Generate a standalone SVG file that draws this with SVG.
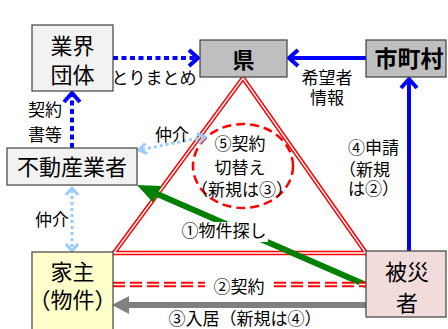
<svg xmlns="http://www.w3.org/2000/svg" width="448" height="329" viewBox="0 0 448 329">
<style>
text{font-family:"Noto Sans CJK JP","Noto Sans",sans-serif;fill:#000;text-anchor:middle}
.n{font-size:22px}
.b{font-size:22px;font-weight:bold}
.l{font-size:17px}
.box{stroke:#404040;stroke-width:1.2}
.blue{stroke:#0000ff;stroke-width:4;fill:none}
.dot{stroke-dasharray:5 3.5}
.lb{stroke:#99ccff;stroke-width:3;fill:none}
.ldot{stroke-dasharray:3 3}
</style>
<rect width="448" height="329" fill="#fff"/>
<g id="connectors">
  <polygon points="243,78 114,253 366,253" fill="none" stroke="#ff0000" stroke-width="4.5"/>
  <polygon points="243,78 114,253 366,253" fill="none" stroke="#fff" stroke-width="1.4"/>
  <ellipse cx="243" cy="166" rx="50" ry="42" fill="none" stroke="#ff0000" stroke-width="2.5" stroke-dasharray="9 5"/>
  <line x1="113" y1="58" x2="197" y2="58" class="blue dot"/>
  <polyline points="189,50 198,58 189,66" class="blue"/>
  <line x1="366" y1="58" x2="290" y2="58" class="blue"/>
  <polyline points="298,50 289,58 298,66" class="blue"/>
  <line x1="72" y1="148" x2="72" y2="95" class="blue dot"/>
  <polyline points="64,102 72,93 80,102" class="blue"/>
  <line x1="409" y1="251" x2="409" y2="80" class="blue"/>
  <polyline points="401,88 409,79 417,88" class="blue"/>
  <line x1="72" y1="190" x2="72" y2="248" class="lb ldot"/>
  <polyline points="66,195 72,188 78,195" class="lb"/>
  <polyline points="66,244 72,251 78,244" class="lb"/>
  <line x1="142" y1="149.5" x2="202" y2="137.5" class="lb ldot"/>
  <polyline points="147.2,153.7 139,150 145.3,143.5" class="lb"/>
  <polyline points="196.8,133.3 205,137 198.7,143.5" class="lb"/>
  <line x1="366" y1="285" x2="156" y2="193.5" stroke="#008000" stroke-width="6"/>
  <polygon points="137,185 161.5,186 153,202.5" fill="#008000"/>
  <g stroke-dasharray="12 5">
    <line x1="113" y1="284.5" x2="205" y2="284.5" stroke="#ff0000" stroke-width="5.5"/>
    <line x1="113" y1="284.5" x2="205" y2="284.5" stroke="#fff" stroke-width="1.6"/>
    <line x1="274" y1="284.5" x2="366" y2="284.5" stroke="#ff0000" stroke-width="5.5"/>
    <line x1="274" y1="284.5" x2="366" y2="284.5" stroke="#fff" stroke-width="1.6"/>
  </g>
  <line x1="366" y1="305" x2="127" y2="305" stroke="#808080" stroke-width="6"/>
  <polygon points="112,305 129,296 129,314" fill="#808080"/>
  <text class="l" x="154" y="84">とりまとめ</text>
  <text class="l" x="327" y="84">希望者</text>
  <text class="l" x="327" y="104">情報</text>
  <text class="l" x="45" y="116">契約</text>
  <text class="l" x="45" y="141">書等</text>
  <text class="l" x="172" y="141">仲介</text>
  <text class="l" x="52" y="226">仲介</text>
  <text class="l" x="240" y="150">⑤契約</text>
  <text class="l" x="240" y="174">切替え</text>
  <text class="l" x="242" y="196">（新規は③）</text>
  <text class="l" x="348" y="154" style="text-anchor:start">④申請</text>
  <text class="l" x="339" y="176" style="text-anchor:start">（新規</text>
  <text class="l" x="348" y="195" style="text-anchor:start">は②）</text>
  <rect x="180" y="222" width="88" height="20" fill="#fff"/>
  <text class="l" x="224" y="237">①物件探し</text>
  <text class="l" x="239" y="293">②契約</text>
  <text class="l" x="245" y="325">③入居（新規は④）</text>
</g>
<g id="gyokai">
  <rect x="32" y="25" width="81" height="66" fill="#f2f2f2" class="box"/>
  <text class="n" x="72.5" y="54">業界</text>
  <text class="n" x="72.5" y="83">団体</text>
</g>
<g id="ken">
  <rect x="200" y="40" width="87" height="37" fill="#bfbfbf" class="box"/>
  <text class="b" x="243.5" y="68">県</text>
</g>
<g id="shichoson">
  <rect x="366" y="40" width="80" height="37" fill="#bfbfbf" class="box"/>
  <text class="b" x="409" y="67" style="font-size:23px">市町村</text>
</g>
<g id="fudosan">
  <rect x="7" y="148" width="130" height="37" fill="#f2f2f2" class="box"/>
  <text class="n" x="72" y="175">不動産業者</text>
</g>
<g id="yanushi">
  <rect x="32" y="252" width="81" height="80" fill="#ffffcc" class="box"/>
  <text class="n" x="72.5" y="280">家主</text>
  <text class="n" x="72.5" y="308">（物件）</text>
</g>
<g id="hisaisha">
  <rect x="366" y="251" width="80" height="66" fill="#f2dcdb" class="box"/>
  <text class="n" x="407" y="280">被災</text>
  <text class="n" x="407" y="311">者</text>
</g>
</svg>
